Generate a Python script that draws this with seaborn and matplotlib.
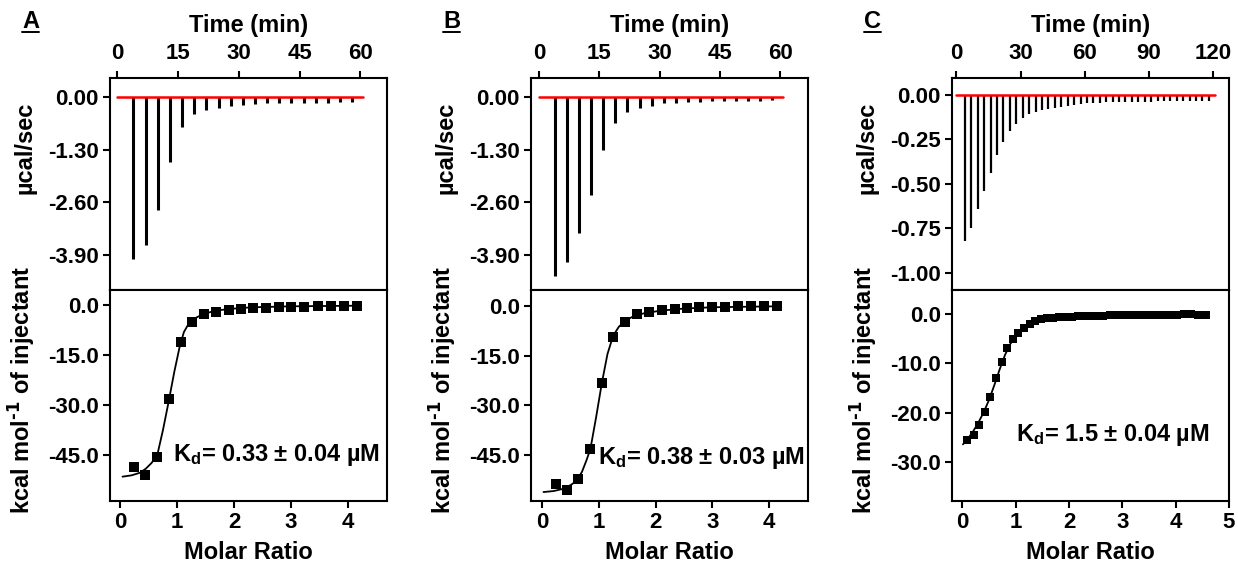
import matplotlib
matplotlib.use("Agg")
import matplotlib.pyplot as plt
import seaborn as sns
from matplotlib.ticker import FixedLocator, FormatStrFormatter
from matplotlib.lines import Line2D

# ---------------- panel A ----------------
a_time = [4, 7, 10, 13, 16, 19, 22, 25, 28, 31, 34, 37, 40, 43, 46, 49, 52, 55, 58]
a_peak = [-4.00, -3.66, -2.80, -1.60, -0.74, -0.43, -0.31, -0.26, -0.21, -0.19, -0.18,
          -0.16, -0.16, -0.15, -0.15, -0.14, -0.14, -0.13, -0.13]
a_base = [0.0, 60.7]
a_ratio = [0.25, 0.44, 0.645, 0.855, 1.06, 1.27, 1.48, 1.69, 1.91, 2.13, 2.34, 2.57,
           2.79, 3.01, 3.23, 3.47, 3.70, 3.93, 4.16]
a_heat = [-48.6, -51.0, -45.6, -28.2, -11.1, -4.9, -2.7, -1.9, -1.3, -1.0, -0.9, -0.7,
          -0.5, -0.4, -0.4, -0.1, -0.1, -0.1, -0.1]
a_fit_x = [0.04, 0.2, 0.35, 0.45, 0.55, 0.65, 0.75, 0.85, 0.95, 1.05, 1.12, 1.2, 1.3,
           1.45, 1.65, 1.9, 2.3, 3.0, 4.2]
a_fit_y = [-51.4, -51.0, -50.2, -49.0, -47.3, -45.0, -37.5, -29.0, -20.0, -12.0, -8.0,
           -5.6, -4.0, -2.7, -1.7, -1.1, -0.6, -0.3, -0.1]
a_kd = "0.33 ± 0.04"

# ---------------- panel B ----------------
b_time = [4, 7, 10, 13, 16, 19, 22, 25, 28, 31, 34, 37, 40, 43, 46, 49, 52, 55, 58]
b_peak = [-4.43, -4.07, -3.37, -2.43, -1.30, -0.63, -0.37, -0.26, -0.21, -0.16, -0.14,
          -0.12, -0.12, -0.11, -0.10, -0.10, -0.09, -0.09, -0.08]
b_base = [0.0, 60.7]
b_ratio = [0.236, 0.44, 0.635, 0.847, 1.05, 1.25, 1.46, 1.68, 1.89, 2.11, 2.34, 2.55,
           2.77, 3.00, 3.22, 3.45, 3.69, 3.92, 4.15]
b_heat = [-53.6, -55.6, -52.2, -43.1, -23.3, -9.4, -4.7, -2.5, -1.8, -1.1, -1.0, -0.5,
          -0.4, -0.4, -0.2, -0.1, -0.1, -0.1, -0.1]
b_fit_x = [0.02, 0.2, 0.35, 0.5, 0.6, 0.7, 0.78, 0.85, 0.95, 1.05, 1.15, 1.25, 1.35,
           1.46, 1.6, 1.8, 2.1, 2.5, 3.0, 4.2]
b_fit_y = [-56.1, -55.8, -55.2, -54.0, -52.8, -50.0, -46.5, -43.0, -33.5, -23.3, -14.5,
           -9.0, -6.3, -4.5, -3.2, -2.2, -1.4, -0.8, -0.4, -0.1]
b_kd = "0.38 ± 0.03"

# ---------------- panel C ----------------
c_time = [4, 7, 10, 13, 16, 19, 22, 25, 28, 31, 34, 37, 40, 43, 46, 49, 52, 55, 58, 61,
          64, 67, 70, 73, 76, 79, 82, 85, 88, 91, 94, 97, 100, 103, 106, 109, 112, 115, 118]
c_peak = [-0.82, -0.75, -0.64, -0.54, -0.44, -0.34, -0.265, -0.205, -0.163, -0.13, -0.11,
          -0.097, -0.086, -0.079, -0.075, -0.069, -0.064, -0.060, -0.054, -0.050, -0.046,
          -0.045, -0.044, -0.043, -0.042, -0.041, -0.040, -0.040, -0.039, -0.039, -0.038,
          -0.038, -0.038, -0.037, -0.037, -0.037, -0.036, -0.036, -0.035]
c_base = [0.0, 121.0]
c_ratio = [0.09, 0.22, 0.32, 0.43, 0.52, 0.63, 0.74, 0.84, 0.94, 1.05, 1.15, 1.26, 1.37,
           1.48, 1.59, 1.70, 1.82, 1.93, 2.05, 2.16, 2.28, 2.40, 2.52, 2.64, 2.76, 2.88,
           3.00, 3.13, 3.25, 3.38, 3.50, 3.63, 3.76, 3.89, 4.02, 4.15, 4.29, 4.42, 4.56]
c_heat = [-25.6, -24.6, -22.4, -19.8, -16.8, -12.9, -9.8, -7.0, -5.2, -3.8, -2.8, -2.0,
          -1.4, -1.1, -0.95, -0.85, -0.75, -0.7, -0.6, -0.55, -0.5, -0.45, -0.4, -0.4,
          -0.35, -0.3, -0.3, -0.3, -0.25, -0.25, -0.25, -0.2, -0.2, -0.2, -0.2, -0.15,
          -0.15, -0.2, -0.3]
c_fit_x = [0.01, 0.1, 0.2, 0.3, 0.4, 0.5, 0.6, 0.7, 0.8, 0.9, 1.0, 1.1, 1.2, 1.35, 1.5,
           1.75, 2.0, 2.5, 3.0, 3.5, 4.0, 4.56]
c_fit_y = [-26.4, -25.3, -23.8, -22.0, -19.9, -17.4, -14.4, -11.2, -8.3, -6.1, -4.5,
           -3.3, -2.5, -1.8, -1.3, -0.9, -0.7, -0.45, -0.3, -0.25, -0.2, -0.2]
c_kd = "1.5 ± 0.04"

# axis settings per panel
ab_time_ticks = [0, 15, 30, 45, 60]
ab_power_ticks = [0.00, -1.30, -2.60, -3.90]
ab_heat_ticks = [0.0, -15.0, -30.0, -45.0]
ab_ratio_ticks = [0, 1, 2, 3, 4]
c_time_ticks = [0, 30, 60, 90, 120]
c_power_ticks = [0.00, -0.25, -0.50, -0.75, -1.00]
c_heat_ticks = [0.0, -10.0, -20.0, -30.0]
c_ratio_ticks = [0, 1, 2, 3, 4, 5]

sns.set_theme(style="ticks")
plt.rcParams['font.family'] = ['Liberation Sans', 'DejaVu Sans']
plt.rcParams['font.weight'] = 'bold'
plt.rcParams['axes.labelweight'] = 'bold'
plt.rcParams['mathtext.default'] = 'regular'
plt.rcParams['axes.linewidth'] = 1.5
plt.rcParams['axes.edgecolor'] = 'black'
plt.rcParams['text.color'] = 'black'
plt.rcParams['axes.labelcolor'] = 'black'
plt.rcParams['xtick.color'] = 'black'
plt.rcParams['ytick.color'] = 'black'

W, H = 1238, 565
fig = plt.figure(figsize=(W / 100, H / 100), dpi=100)

LAB = 17      # axis label size
TCK = 16      # tick label size


def px_axes(left, top, right, bottom):
    return fig.add_axes([left / W, 1 - bottom / H, (right - left) / W, (bottom - top) / H])


def style(ax):
    for sp in ax.spines.values():
        sp.set_visible(True)
        sp.set_linewidth(1.5)
        sp.set_color('black')
    ax.set_facecolor('white')
    ax.tick_params(direction='out', length=5, width=1.5, labelsize=TCK,
                   colors='black', labelcolor='black')


def draw_panel(left, letter, time, peak, base, ratio, heat, fit_x, fit_y, kd,
               tlim, plim, tticks, pticks, hlim, rlim, hticks, rticks, msize, kd_pos):
    right = left + 277
    ax1 = px_axes(left, 78, right, 290)
    ax2 = px_axes(left, 290, right, 501)
    for ax in (ax1, ax2):
        style(ax)

    # raw thermogram
    ax1.vlines(time, peak, 0, color='black', linewidth=2.2 if msize > 40 else 1.6)
    sns.lineplot(x=base, y=[0, 0], ax=ax1, color='red', linewidth=1.8, estimator=None)
    ax1.set_xlim(*tlim)
    ax1.set_ylim(*plim)
    ax1.xaxis.set_major_locator(FixedLocator(tticks))
    ax1.yaxis.set_major_locator(FixedLocator(pticks))
    ax1.yaxis.set_major_formatter(FormatStrFormatter('%.2f'))
    ax1.xaxis.tick_top()
    ax1.xaxis.set_label_position('top')
    ax1.tick_params(axis='x', top=True, bottom=False, labeltop=True, labelbottom=False, pad=5)
    ax1.tick_params(axis='y', left=True, right=False, pad=3)
    ax1.set_xlabel('Time (min)', fontsize=LAB, fontweight='bold')
    ax1.set_ylabel('µcal/sec', fontsize=LAB, fontweight='bold')
    ax1.xaxis.set_label_coords(0.5, 1.215)
    ax1.yaxis.set_label_coords(-0.264, 0.67)

    # integrated heats
    sns.lineplot(x=fit_x, y=fit_y, ax=ax2, color='black', linewidth=1.3,
                 estimator=None, sort=False)
    sns.scatterplot(x=ratio, y=heat, ax=ax2, marker='s', s=msize, color='black',
                    edgecolor='black', linewidth=0, zorder=3)
    ax2.set_xlim(*rlim)
    ax2.set_ylim(*hlim)
    ax2.xaxis.set_major_locator(FixedLocator(rticks))
    ax2.yaxis.set_major_locator(FixedLocator(hticks))
    ax2.yaxis.set_major_formatter(FormatStrFormatter('%.1f'))
    ax2.tick_params(axis='x', bottom=True, top=False, pad=3)
    ax2.tick_params(axis='y', left=True, right=False, pad=3)
    ax2.set_xlabel('Molar Ratio', fontsize=LAB, fontweight='bold')
    ax2.set_ylabel(r'kcal mol$^{\text{-1}}$ of injectant', fontsize=LAB, fontweight='bold')
    ax2.xaxis.set_label_coords(0.5, -0.19)
    ax2.yaxis.set_label_coords(-0.264, 0.526)
    ax2.text(kd_pos[0], kd_pos[1], 'K$_{d}$= ' + kd + ' µM', transform=ax2.transAxes,
             fontsize=17, fontweight='bold', ha='left', va='center')

    t = fig.text((left - 88) / W, 1 - 10 / H, letter, fontsize=17, fontweight='bold',
                 ha='left', va='top')
    return t


letters = []
letters.append(draw_panel(110, 'A', a_time, a_peak, a_base, a_ratio, a_heat, a_fit_x, a_fit_y,
                          a_kd, (-1.8, 66.6), (-4.77, 0.47), ab_time_ticks, ab_power_ticks,
                          (-58.7, 4.6), (-0.18, 4.69), ab_heat_ticks, ab_ratio_ticks, 52,
                          (0.227, 0.218)))
letters.append(draw_panel(531, 'B', b_time, b_peak, b_base, b_ratio, b_heat, b_fit_x, b_fit_y,
                          b_kd, (-2.0, 66.9), (-4.77, 0.47), ab_time_ticks, ab_power_ticks,
                          (-58.8, 4.8), (-0.2, 4.69), ab_heat_ticks, ab_ratio_ticks, 52,
                          (0.243, 0.202)))
letters.append(draw_panel(952, 'C', c_time, c_peak, c_base, c_ratio, c_heat, c_fit_x, c_fit_y,
                          c_kd, (-2.06, 127.4), (-1.097, 0.093), c_time_ticks, c_power_ticks,
                          (-37.85, 4.8), (-0.195, 5.0), c_heat_ticks, c_ratio_ticks, 30,
                          (0.232, 0.312)))

# underline the panel letters
fig.canvas.draw()
renderer = fig.canvas.get_renderer()
for t in letters:
    bb = t.get_window_extent(renderer).transformed(fig.transFigure.inverted())
    fig.add_artist(Line2D([bb.x0, bb.x1], [bb.y0 + 0.002, bb.y0 + 0.002],
                          color='black', linewidth=1.4, transform=fig.transFigure))

fig.savefig('out.png', dpi=100, facecolor='white')
